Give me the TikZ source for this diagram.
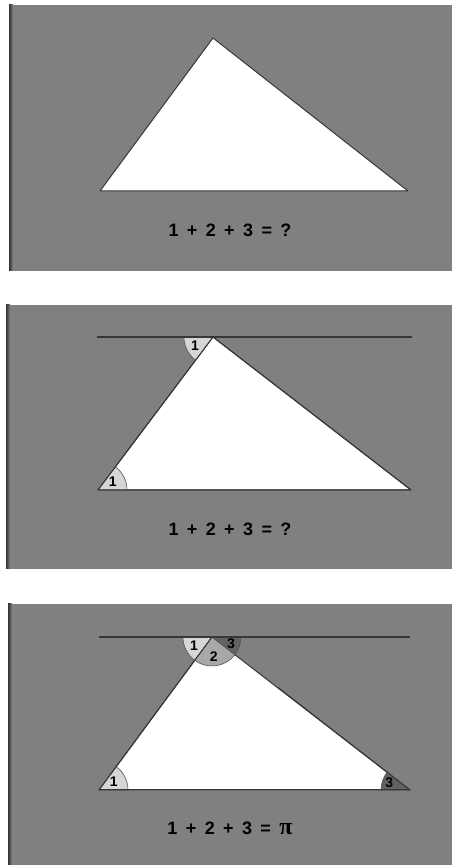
\documentclass[tikz,border=0pt]{standalone}
\usepackage{fontspec}
\setmainfont{Liberation Sans}
\newfontfamily\pifont{Liberation Serif}
\usetikzlibrary{math}
\definecolor{PanelGray}{RGB}{128,128,128}
\definecolor{PanelEdge}{RGB}{50,50,50}
\definecolor{EdgeGray}{RGB}{55,55,55}
\definecolor{AngleOne}{RGB}{214,214,214}
\definecolor{AngleTwo}{RGB}{168,168,168}
\definecolor{AngleThree}{RGB}{98,98,98}
\tikzset{%
  panel/.style={fill=PanelGray},
  panel edge/.style={left color=PanelEdge, right color=PanelGray},
  side lines/.style={draw=EdgeGray, line width=1pt, line join=round},
  parallel line/.style={draw=EdgeGray, line width=1.7pt},
  angle arc/.style={draw=EdgeGray!85, line width=0.6pt},
  angle label/.style={font=\bfseries\fontsize{14}{14}\selectfont, inner sep=0pt},
  sum label/.style={font=\bfseries\fontsize{18}{20}\selectfont, inner sep=0pt,
    execute at begin node={\spaceskip=8.4pt\relax}}
}

\begin{document}
\begin{tikzpicture}[x=1pt,y=1pt]
    \tikzmath{
      \xa=99; \xb=213; \xc=410;% triangle corners
      \h=153;% triangle height
      \r=29;% angle marks radius
      \l=20;% angle labels distance
      \aL=atan2(\h,\xb-\xa);% angle at left corner
      \aR=atan2(\h,\xc-\xb);% angle at right corner
      \yI=674; \yII=375; \yIII=75;% base lines
    }
    \useasboundingbox (0,0) rectangle (452,865);
    % Panel #1.
    \fill[panel] (9,594) rectangle (452,860);
    \shade[panel edge] (9,594) rectangle (13,860);
    \coordinate (A1) at (\xa+1,\yI);
    \coordinate (B1) at (\xb,\yI+\h);
    \coordinate (C1) at (\xc-2,\yI);
    \filldraw[fill=white,side lines] (A1) -- (B1) -- (C1) -- cycle;
    \node[sum label] (sum1) at (230,\yI-39) {1 + 2 + 3 = ?};
    % Panel #2.
    \fill[panel] (6,296) rectangle (452,560);
    \shade[panel edge] (6,296) rectangle (10,560);
    \coordinate (A2) at (\xa-1,\yII);
    \coordinate (B2) at (\xb,\yII+\h);
    \coordinate (C2) at (\xc+1,\yII);
    \coordinate (L2) at (97,\yII+\h);
    \coordinate (R2) at (412,\yII+\h);
    \filldraw[fill=white,side lines] (A2) -- (B2) -- (C2) -- cycle;
    \filldraw[fill=AngleOne,angle arc] (A2) -- ++(0:\r) arc[start angle=0, end angle=\aL, radius=\r] -- cycle;
    \filldraw[fill=AngleOne,angle arc] (B2) -- ++(180:\r) arc[start angle=180, end angle=180+\aL, radius=\r] -- cycle;
    \draw[side lines] (A2) -- (B2) -- (C2) -- cycle;
    \draw[parallel line] (L2) -- (R2);
    \path (A2) ++(\aL/2+3:\l-3) node[angle label] (one2a) {1};
    \path (B2) ++(180+\aL/2:\l) node[angle label] (one2b) {1};
    \node[sum label] (sum2) at (230,\yII-39) {1 + 2 + 3 = ?};
    % Panel #3.
    \fill[panel] (8,0) rectangle (452,261);
    \shade[panel edge] (8,0) rectangle (12,261);
    \coordinate (A3) at (\xa,\yIII);
    \coordinate (B3) at (\xb-1,\yIII+\h);
    \coordinate (C3) at (\xc,\yIII);
    \coordinate (L3) at (99,\yIII+\h);
    \coordinate (R3) at (410,\yIII+\h);
    \filldraw[fill=white,side lines] (A3) -- (B3) -- (C3) -- cycle;
    \filldraw[fill=AngleOne,angle arc] (A3) -- ++(0:\r) arc[start angle=0, end angle=\aL, radius=\r] -- cycle;
    \filldraw[fill=AngleThree,angle arc] (C3) -- ++(180-\aR:\r) arc[start angle=180-\aR, end angle=180, radius=\r] -- cycle;
    \filldraw[fill=AngleOne,angle arc] (B3) -- ++(180:\r) arc[start angle=180, end angle=180+\aL, radius=\r] -- cycle;
    \filldraw[fill=AngleTwo,angle arc] (B3) -- ++(180+\aL:\r) arc[start angle=180+\aL, end angle=360-\aR, radius=\r] -- cycle;
    \filldraw[fill=AngleThree,angle arc] (B3) -- ++(-\aR:\r) arc[start angle=-\aR, end angle=0, radius=\r] -- cycle;
    \draw[side lines] (A3) -- (B3);
    \draw[side lines] (C3) -- ++(180-\aR:\xc-\xb-30);
    \draw[side lines] (A3) -- (C3);
    \draw[parallel line] (L3) -- (R3);
    \path (A3) ++(\aL/2+3:\l-3) node[angle label] (one3a) {1};
    \path (C3) ++(180-\aR/2:\l+2) node[angle label] (three3a) {3};
    \path (B3) ++(180+\aL/2:\l) node[angle label] (one3b) {1};
    \path (B3) ++(275:\l) node[angle label] (two3b) {2};
    \path (B3) ++(-\aR/2:\l) node[angle label] (three3b) {3};
    \node[sum label] (sum3) at (230,\yIII-38) {1 + 2 + 3 = {\pifont\fontsize{24}{24}\selectfont π}};
\end{tikzpicture}
\end{document}
